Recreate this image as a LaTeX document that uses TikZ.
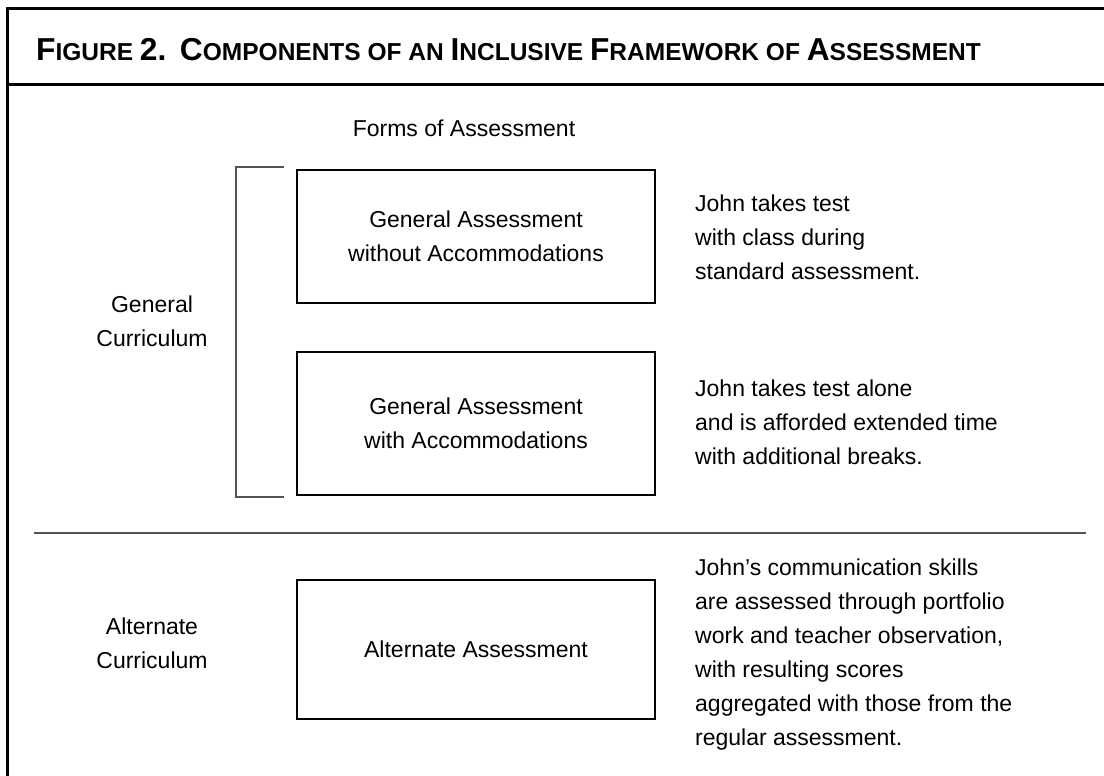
\documentclass[tikz,border=0pt]{standalone}
\usepackage{fontspec}
\setmainfont{Liberation Sans}
\newcommand\capbig[1]{{\fontsize{31.7}{32}\selectfont #1}}
\tikzset{
  frameline/.style={line width=3pt, black},
  formbox/.style={draw, line width=1.4pt, minimum width=358pt, align=center, inner sep=0pt,
                  font=\fontsize{23}{34}\selectfont},
  bodytext/.style={align=left, anchor=west, inner sep=0pt, font=\fontsize{23}{34}\selectfont},
  sidetext/.style={align=center, inner sep=0pt, font=\fontsize{23}{34}\selectfont},
  bracketline/.style={line width=2pt, draw=black!68},
  divider/.style={line width=2pt, draw=black!68},
}
\begin{document}
\begin{tikzpicture}[x=1pt,y=-1pt]
\useasboundingbox (0,0) rectangle (1104,776);
% outer frame, open on the right and at the bottom
\draw[frameline] (7,776) -- (7,9) -- (1104,9);
\draw[frameline] (7,85) -- (1104,85);
% title
\node[anchor=base west, inner sep=0pt, font=\bfseries\fontsize{24.5}{25}\selectfont] (title) at (36,61)
  {\capbig{F}IGURE \capbig{2.}\ \ \capbig{C}OMPONENTS OF AN \capbig{I}NCLUSIVE \capbig{F}RAMEWORK OF \capbig{A}SSESSMENT};
% column heading
\node[sidetext] (forms) at (464,128) {Forms of Assessment};
% assessment boxes
\node[formbox, minimum height=133pt] (gen) at (476,236.5) {General Assessment\\without Accommodations};
\node[formbox, minimum height=143pt] (acc) at (476,423.5) {General Assessment\\with Accommodations};
\node[formbox, minimum height=139pt] (alt) at (476,649.5) {Alternate Assessment};
% curriculum labels
\node[sidetext] (gencur) at (152,321) {General\\Curriculum};
\node[sidetext] (altcur) at (152,643) {Alternate\\Curriculum};
% bracket grouping the general curriculum forms
\draw[bracketline] (284,167) -- (236,167) -- (236,497) -- (284,497);
% divider between general and alternate curriculum
\draw[divider] (34,533) -- (1086,533);
% examples
\node[bodytext] (ex1) at (695,237) {John takes test\\with class during\\standard assessment.};
\node[bodytext] (ex2) at (695,422) {John takes test alone\\and is afforded extended time\\with additional breaks.};
\node[bodytext] (ex3) at (695,655) {John’s communication skills\\are assessed through portfolio\\work and teacher observation,\\with resulting scores\\aggregated with those from the\\regular assessment.};
\end{tikzpicture}
\end{document}
